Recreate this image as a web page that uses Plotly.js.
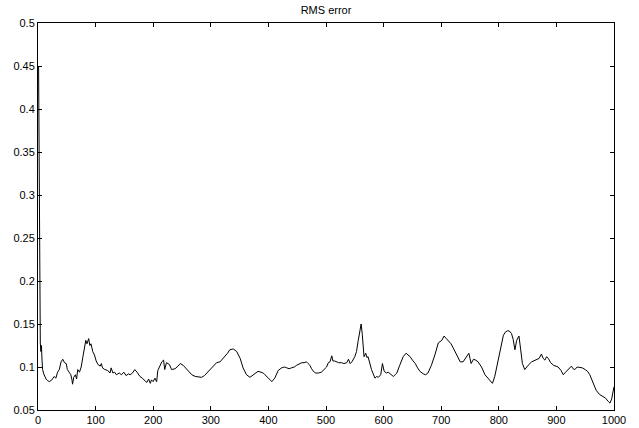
<!DOCTYPE html>
<html>
<head>
<meta charset="utf-8">
<script src="https://cdn.plot.ly/plotly-3.0.1.min.js"></script>
<style>
html,body{margin:0;padding:0;background:#fff;}
#chart{width:639px;height:428px;}
</style>
</head>
<body>
<div id="chart"></div>
<script>
const iterations = [1,2,3,4,5,6,7,8,10,14,17,20,24,28,31,34,37,40,43,46,49,51,54,57,59,60,62,65,67,69,72,75,78,81,83,85,88,90,92,95,98,101,104,108,110,112,116,121,125,127,130,133,136,141,145,149,153,157,160,164,168,172,177,181,185,189,192,195,197,200,203,206,208,211,215,218,220,223,226,228,232,238,243,247,252,257,261,267,273,279,284,289,293,298,302,306,310,316,320,325,329,333,339,345,351,356,362,368,374,378,382,387,391,394,397,401,406,411,417,423,428,432,436,440,445,449,454,458,462,466,469,472,475,478,482,487,492,497,501,504,507,510,512,515,518,522,527,531,536,539,542,545,550,553,556,559,561,563,564,566,569,571,573,576,579,582,585,588,591,595,598,601,605,608,611,614,617,620,623,628,634,639,643,646,650,655,659,663,669,673,677,683,689,695,701,705,709,712,717,721,727,733,738,741,744,748,750,752,756,760,764,770,776,782,786,789,793,798,804,808,812,815,818,822,825,827,828,831,835,838,841,845,848,851,857,861,866,870,874,877,880,883,886,890,895,899,903,908,912,916,920,923,926,929,932,936,941,945,950,954,958,964,969,975,980,985,990,993,996,998,1000];
const rmsError = [0.45,0.30,0.17,0.128,0.118,0.125,0.108,0.097,0.092,0.086,0.084,0.083,0.085,0.089,0.087,0.094,0.097,0.106,0.109,0.105,0.104,0.097,0.094,0.091,0.085,0.080,0.088,0.091,0.086,0.097,0.094,0.100,0.112,0.122,0.131,0.127,0.133,0.125,0.127,0.118,0.114,0.107,0.103,0.101,0.104,0.099,0.097,0.096,0.093,0.099,0.093,0.094,0.091,0.093,0.091,0.094,0.090,0.092,0.091,0.093,0.097,0.094,0.089,0.087,0.084,0.082,0.086,0.081,0.085,0.083,0.087,0.083,0.096,0.100,0.106,0.108,0.097,0.105,0.104,0.103,0.097,0.098,0.101,0.104,0.102,0.098,0.095,0.091,0.089,0.088,0.088,0.090,0.093,0.097,0.100,0.103,0.105,0.106,0.109,0.112,0.116,0.120,0.121,0.118,0.110,0.099,0.091,0.088,0.091,0.094,0.095,0.094,0.093,0.091,0.089,0.087,0.083,0.087,0.096,0.099,0.100,0.099,0.098,0.099,0.100,0.102,0.104,0.105,0.105,0.106,0.104,0.102,0.098,0.095,0.093,0.093,0.094,0.097,0.100,0.105,0.106,0.113,0.107,0.107,0.106,0.105,0.105,0.104,0.105,0.109,0.104,0.106,0.112,0.118,0.131,0.142,0.150,0.138,0.127,0.112,0.116,0.111,0.112,0.104,0.097,0.092,0.087,0.089,0.088,0.091,0.104,0.095,0.093,0.094,0.092,0.091,0.089,0.091,0.093,0.102,0.112,0.116,0.114,0.112,0.108,0.104,0.099,0.095,0.092,0.091,0.093,0.102,0.114,0.128,0.131,0.136,0.133,0.131,0.127,0.122,0.114,0.106,0.106,0.109,0.112,0.116,0.110,0.104,0.109,0.108,0.106,0.100,0.091,0.086,0.084,0.081,0.089,0.104,0.124,0.137,0.141,0.142,0.142,0.139,0.132,0.125,0.120,0.131,0.136,0.120,0.104,0.097,0.100,0.102,0.106,0.107,0.109,0.110,0.115,0.110,0.108,0.112,0.110,0.105,0.102,0.101,0.100,0.096,0.091,0.094,0.097,0.099,0.101,0.098,0.097,0.100,0.099,0.099,0.097,0.095,0.091,0.081,0.073,0.068,0.066,0.064,0.060,0.058,0.063,0.070,0.077];
const xTicks = [0,100,200,300,400,500,600,700,800,900,1000];
const yTicks = [0.05,0.1,0.15,0.2,0.25,0.3,0.35,0.4,0.45,0.5];
const yTickLabels = ['0.05','0.1','0.15','0.2','0.25','0.3','0.35','0.4','0.45','0.5'];
const titleText = 'RMS error';

const font = {family: 'Liberation Sans, Arial, sans-serif', size: 11, color: '#000'};
const axisCommon = {
  showgrid: false, zeroline: false, showline: true, linecolor: '#000', linewidth: 1,
  mirror: 'ticks', ticks: 'inside', ticklen: 4, tickwidth: 1, tickcolor: '#000',
  tickfont: font, fixedrange: true
};
Plotly.newPlot('chart', [{
  x: iterations, y: rmsError, type: 'scatter', mode: 'lines',
  line: {color: '#000', width: 1}, hoverinfo: 'skip'
}], {
  width: 639, height: 428,
  margin: {l: 38, r: 25, t: 23, b: 18, pad: 0},
  paper_bgcolor: '#fff', plot_bgcolor: '#fff',
  showlegend: false,
  font: font,
  title: {text: titleText, font: font, x: 0.5, xanchor: 'center', y: 0.985, yanchor: 'top', xref: 'paper'},
  xaxis: Object.assign({}, axisCommon, {range: [0, 1000], tickvals: xTicks, ticktext: xTicks.map(String)}),
  yaxis: Object.assign({}, axisCommon, {range: [0.05, 0.5], tickvals: yTicks, ticktext: yTickLabels})
}, {displayModeBar: false, staticPlot: true});
</script>
</body>
</html>
